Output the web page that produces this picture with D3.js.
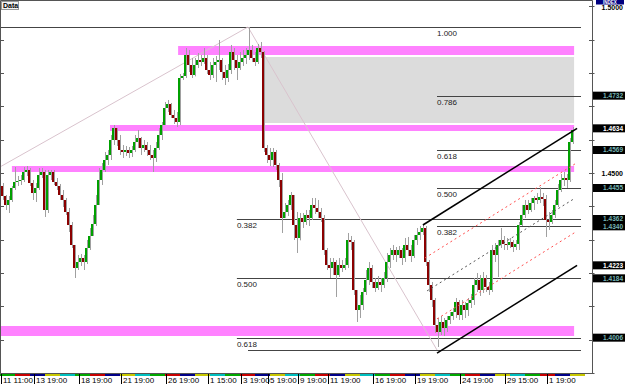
<!DOCTYPE html>
<html>
<head>
<meta charset="utf-8">
<title>Data</title>
<style>
body { margin: 0; background: #fff; }
svg { display: block; font-family: "Liberation Sans", Arial, sans-serif; }
</style>
</head>
<body>
<div id="chart"></div>
<script src="https://d3js.org/d3.v7.min.js"></script>
<script>

// candles, one per bar (open of each bar is the close of the one before)
var firstOpen = 1.4461;
var closes = [
1.4431,1.4404,1.4419,1.4455,1.4473,1.4476,1.4479,1.4503,1.4509,1.4470,
1.4440,1.4455,1.4494,1.4503,1.4389,1.4494,1.4503,1.4473,1.4461,1.4434,
1.4419,1.4383,1.4344,1.4284,1.4215,1.4233,1.4245,1.4233,1.4275,1.4311,
1.4347,1.4404,1.4479,1.4509,1.4539,1.4554,1.4599,1.4635,1.4599,1.4569,
1.4563,1.4569,1.4560,1.4569,1.4593,1.4605,1.4575,1.4584,1.4569,1.4554,
1.4545,1.4575,1.4614,1.4644,1.4695,1.4707,1.4674,1.4665,1.4653,1.4785,
1.4791,1.4854,1.4824,1.4794,1.4824,1.4839,1.4833,1.4845,1.4809,1.4794,
1.4824,1.4833,1.4839,1.4803,1.4785,1.4809,1.4863,1.4839,1.4815,1.4833,
1.4845,1.4854,1.4869,1.4845,1.4833,1.4875,1.4863,1.4575,1.4554,1.4539,
1.4563,1.4524,1.4479,1.4365,1.4383,1.4404,1.4434,1.4344,1.4305,1.4365,
1.4353,1.4374,1.4365,1.4404,1.4395,1.4383,1.4365,1.4269,1.4224,1.4215,
1.4233,1.4194,1.4224,1.4215,1.4224,1.4299,1.4293,1.4149,1.4089,1.4104,
1.4143,1.4179,1.4215,1.4173,1.4155,1.4173,1.4164,1.4185,1.4233,1.4254,
1.4269,1.4254,1.4269,1.4245,1.4284,1.4269,1.4251,1.4299,1.4314,1.4323,
1.4335,1.4233,1.4164,1.4119,1.4044,1.4023,1.4053,1.4035,1.4059,1.4071,
1.4083,1.4113,1.4074,1.4104,1.4089,1.4110,1.4119,1.4164,1.4179,1.4149,
1.4185,1.4158,1.4149,1.4269,1.4254,1.4284,1.4299,1.4287,1.4284,1.4293,
1.4278,1.4287,1.4344,1.4374,1.4404,1.4389,1.4410,1.4425,1.4419,1.4428,
1.4422,1.4359,1.4353,1.4374,1.4404,1.4449,1.4479,1.4485,1.4479,1.4593,1.4629];
var highs = [
1.4470,1.4434,1.4431,1.4461,1.4518,1.4491,1.4494,1.4518,1.4521,1.4515,
1.4479,1.4470,1.4515,1.4515,1.4509,1.4509,1.4509,1.4509,1.4485,1.4467,
1.4449,1.4425,1.4395,1.4353,1.4284,1.4254,1.4257,1.4254,1.4299,1.4335,
1.4374,1.4434,1.4515,1.4530,1.4563,1.4569,1.4614,1.4644,1.4635,1.4614,
1.4584,1.4581,1.4578,1.4581,1.4614,1.4629,1.4608,1.4599,1.4593,1.4584,
1.4569,1.4593,1.4635,1.4653,1.4713,1.4719,1.4710,1.4689,1.4683,1.4797,
1.4800,1.4875,1.4869,1.4845,1.4845,1.4860,1.4854,1.4875,1.4854,1.4833,
1.4845,1.4851,1.4899,1.4845,1.4824,1.4827,1.4884,1.4875,1.4854,1.4863,
1.4869,1.4875,1.4938,1.4884,1.4863,1.4887,1.4893,1.4866,1.4584,1.4575,
1.4575,1.4569,1.4530,1.4500,1.4410,1.4419,1.4443,1.4434,1.4383,1.4380,
1.4380,1.4389,1.4389,1.4425,1.4425,1.4419,1.4395,1.4374,1.4275,1.4245,
1.4245,1.4239,1.4245,1.4239,1.4245,1.4320,1.4311,1.4299,1.4149,1.4134,
1.4155,1.4209,1.4233,1.4224,1.4185,1.4191,1.4185,1.4203,1.4260,1.4275,
1.4284,1.4278,1.4281,1.4275,1.4305,1.4308,1.4284,1.4314,1.4335,1.4341,
1.4344,1.4341,1.4239,1.4173,1.4125,1.4065,1.4071,1.4065,1.4071,1.4083,
1.4095,1.4125,1.4119,1.4119,1.4113,1.4125,1.4137,1.4185,1.4200,1.4194,
1.4203,1.4194,1.4173,1.4284,1.4290,1.4299,1.4335,1.4311,1.4305,1.4305,
1.4299,1.4299,1.4353,1.4404,1.4419,1.4419,1.4425,1.4431,1.4440,1.4458,
1.4440,1.4434,1.4383,1.4389,1.4419,1.4467,1.4497,1.4503,1.4497,1.4605,1.4638];
var lows = [
1.4419,1.4389,1.4380,1.4413,1.4449,1.4461,1.4464,1.4473,1.4491,1.4461,
1.4419,1.4413,1.4449,1.4485,1.4368,1.4380,1.4479,1.4464,1.4449,1.4419,
1.4398,1.4374,1.4323,1.4275,1.4185,1.4209,1.4221,1.4209,1.4227,1.4269,
1.4311,1.4341,1.4404,1.4464,1.4503,1.4524,1.4539,1.4584,1.4581,1.4554,
1.4545,1.4551,1.4545,1.4548,1.4563,1.4575,1.4554,1.4563,1.4551,1.4539,
1.4503,1.4533,1.4569,1.4599,1.4644,1.4683,1.4665,1.4647,1.4638,1.4644,
1.4779,1.4785,1.4803,1.4785,1.4790,1.4815,1.4821,1.4827,1.4797,1.4779,
1.4785,1.4773,1.4809,1.4779,1.4764,1.4773,1.4797,1.4809,1.4779,1.4809,
1.4821,1.4827,1.4839,1.4833,1.4821,1.4827,1.4845,1.4563,1.4530,1.4521,
1.4518,1.4509,1.4458,1.4320,1.4365,1.4371,1.4389,1.4299,1.4260,1.4298,
1.4335,1.4344,1.4341,1.4359,1.4377,1.4365,1.4353,1.4254,1.4209,1.4185,
1.4194,1.4128,1.4188,1.4203,1.4209,1.4215,1.4269,1.4134,1.4053,1.4065,
1.4089,1.4134,1.4164,1.4155,1.4143,1.4149,1.4143,1.4155,1.4173,1.4215,
1.4239,1.4233,1.4245,1.4224,1.4233,1.4251,1.4233,1.4245,1.4284,1.4299,
1.4314,1.4221,1.4143,1.4098,1.4020,1.3978,1.4014,1.4011,1.4023,1.4047,
1.4059,1.4065,1.4059,1.4059,1.4065,1.4071,1.4095,1.4104,1.4143,1.4131,
1.4140,1.4143,1.4134,1.4143,1.4233,1.4188,1.4275,1.4269,1.4269,1.4275,
1.4263,1.4269,1.4269,1.4341,1.4365,1.4377,1.4383,1.4389,1.4407,1.4410,
1.4401,1.4308,1.4329,1.4347,1.4365,1.4398,1.4443,1.4461,1.4455,1.4473,1.4587];

// time axis
var timeLabels = ["11 11:00","13 19:00","18 19:00","21 19:00","26 19:00","1 15:00","3 19:00",
                  "5 19:00","9 19:00","11 19:00","16 19:00","19 19:00","24 19:00","29 15:00","1 19:00"];
var timeBars = [0, 11, 26, 40, 55, 69, 80, 89, 99, 109, 124, 138, 153, 168, 182];
var dayColors = ["#00a800", "#c80000", "#000088", "#c8c800", "#00c0c0"];

// price axis
var gridLabels = [1.50, 1.45];

// zones (magenta bands + grey box), bar where each starts, all end at the last bar
var bandTops    = [1.4881, 1.4644, 1.4521, 1.4041];
var bandBottoms = [1.4854, 1.4626, 1.4503, 1.4011];
var bandStarts  = [58.7, 36, 3.3, -0.7];
var greyZone    = [86.7, 1.4848, 1.4650];

// fibonacci levels
var fib1Names  = ["0.382", "0.500", "0.618", "0.786", "1.000"];
var fib1Prices = [1.4340, 1.4455, 1.4569, 1.4732, 1.4938];
var fib1Zero   = 1.3969;
var fib2Names  = ["0.382", "0.500", "0.618"];
var fib2Prices = [1.4362, 1.4184, 1.4006];

// trend lines [bar, price, bar, price]
var trendLines = [[-0.7, 1.4518, 82, 1.4938], [82, 1.4938, 145, 1.3969]];

// channel: upper line anchors, lower line end price, start bar of each line
var chanUpper = [140.3, 1.4344, 191.7, 1.4634];
var chanLowerEnd = 1.4223;
var chanStarts = [140.3, 141, 141.7, 145, 145];

var width = 625, height = 384;
var lastBar = closes.length - 1;

var svg = d3.select("#chart").append("svg")
    .attr("width", width)
    .attr("height", height);

var x = d3.scaleLinear().domain([0, 190]).range([2, 572]);
var y = d3.scaleLinear().domain([1.39, 1.50]).range([373, 6.33]);
var fmt = d3.format(".4f");

// zones
svg.append("rect")
    .attr("x", x(greyZone[0])).attr("width", x(lastBar + 0.7) - x(greyZone[0]))
    .attr("y", y(greyZone[1])).attr("height", y(greyZone[2]) - y(greyZone[1]))
    .attr("fill", "#dcdcdc");

svg.selectAll(".band")
    .data(bandTops)
  .enter().append("rect")
    .attr("class", "band")
    .attr("x", function(d, i) { return x(bandStarts[i]); })
    .attr("width", function(d, i) { return x(lastBar + 0.7) - x(bandStarts[i]); })
    .attr("y", function(d) { return y(d); })
    .attr("height", function(d, i) { return y(bandBottoms[i]) - y(d); })
    .attr("fill", "#ff82ff");

// fib lines
var endX = x(193);
var fibLines = [];
fib1Prices.forEach(function(p, i) {
  fibLines.push({p: p, x0: i == 4 ? 0 : x(145), name: fib1Names[i], lx: x(145)});
});
fibLines.push({p: fib1Zero, x0: x(82), name: "", lx: 0});
fib2Prices.forEach(function(p, i) {
  fibLines.push({p: p, x0: x(78.3), name: fib2Names[i], lx: x(78.3)});
});

svg.selectAll(".fib")
    .data(fibLines)
  .enter().append("line")
    .attr("x1", function(d) { return d.x0; })
    .attr("x2", endX)
    .attr("y1", function(d) { return Math.round(y(d.p)) + 0.5; })
    .attr("y2", function(d) { return Math.round(y(d.p)) + 0.5; })
    .attr("stroke", "#444")
    .attr("stroke-width", 1);

svg.selectAll(".fibtext")
    .data(fibLines.filter(function(d) { return d.name; }))
  .enter().append("text")
    .attr("x", function(d) { return d.lx; })
    .attr("y", function(d) { return y(d.p) + 9; })
    .attr("font-size", "8px")
    .attr("fill", "#222")
    .text(function(d) { return d.name; });

// thin trend lines
svg.selectAll(".trend")
    .data(trendLines)
  .enter().append("line")
    .attr("x1", function(d) { return x(d[0]); })
    .attr("y1", function(d) { return y(d[1]); })
    .attr("x2", function(d) { return x(d[2]); })
    .attr("y2", function(d) { return y(d[3]); })
    .attr("stroke", "#d9c3cd")
    .attr("stroke-width", 1);

// candles
var opens = [firstOpen].concat(closes.slice(0, -1));
var bars = d3.range(closes.length);

svg.append("g").selectAll("line")
    .data(bars)
  .enter().append("line")
    .attr("x1", function(i) { return x(i) + 1.5; })
    .attr("x2", function(i) { return x(i) + 1.5; })
    .attr("y1", function(i) { return y(highs[i]); })
    .attr("y2", function(i) { return y(lows[i]); })
    .attr("stroke", "#a0a0a0");

svg.append("g").selectAll("rect")
    .data(bars)
  .enter().append("rect")
    .attr("x", function(i) { return x(i) - 1; })
    .attr("width", 2)
    .attr("y", function(i) { return y(Math.max(opens[i], closes[i])); })
    .attr("height", function(i) { return Math.max(1, Math.abs(y(opens[i]) - y(closes[i]))); })
    .attr("fill", function(i) { return closes[i] >= opens[i] ? "#00a000" : "#8b0000"; });

// channel
var slope = (chanUpper[3] - chanUpper[1]) / (chanUpper[2] - chanUpper[0]);
var chanWidth = chanUpper[3] - chanLowerEnd;
function chanPrice(b, k) { return chanUpper[1] + (b - chanUpper[0]) * slope - k * chanWidth / 4; }
var chanStyles = [
  {stroke: "#000", w: 1.6, dash: null},
  {stroke: "#ff5050", w: 1, dash: "2,3"},
  {stroke: "#555", w: 1, dash: "2,3"},
  {stroke: "#ff5050", w: 1, dash: "2,3"},
  {stroke: "#000", w: 1.6, dash: null}
];
svg.selectAll(".chan")
    .data(chanStarts)
  .enter().append("line")
    .attr("x1", function(b) { return x(b); })
    .attr("y1", function(b, k) { return y(chanPrice(b, k)); })
    .attr("x2", function(b, k) { return x(k == 0 || k == 4 ? chanUpper[2] : 191); })
    .attr("y2", function(b, k) { return y(chanPrice(k == 0 || k == 4 ? chanUpper[2] : 191, k)); })
    .attr("stroke", function(b, k) { return chanStyles[k].stroke; })
    .attr("stroke-width", function(b, k) { return chanStyles[k].w; })
    .attr("stroke-dasharray", function(b, k) { return chanStyles[k].dash; });

// frame
var plotRight = 592.5, plotBottom = 373.5;
svg.append("path")
    .attr("d", "M0.5,0.5H" + plotRight + "V" + plotBottom + "H0.5Z")
    .attr("fill", "none")
    .attr("stroke", "#555");

// price ticks, both sides, pointing in
var ticks = d3.range(139, 151).map(function(v) { return v / 100; });
svg.selectAll(".ltick")
    .data(ticks)
  .enter().append("line")
    .attr("x1", 0.5).attr("x2", 4)
    .attr("y1", function(d) { return Math.round(y(d)) + 0.5; })
    .attr("y2", function(d) { return Math.round(y(d)) + 0.5; })
    .attr("stroke", "#555");
svg.selectAll(".rtick")
    .data(ticks)
  .enter().append("line")
    .attr("x1", plotRight - 3.5).attr("x2", plotRight + 2)
    .attr("y1", function(d) { return Math.round(y(d)) + 0.5; })
    .attr("y2", function(d) { return Math.round(y(d)) + 0.5; })
    .attr("stroke", "#555");

svg.selectAll(".grid")
    .data(gridLabels)
  .enter().append("text")
    .attr("x", 623)
    .attr("y", function(d) { return y(d) + 3.5; })
    .attr("text-anchor", "end")
    .attr("font-size", "7px")
    .attr("font-weight", "bold")
    .attr("fill", "#000")
    .text(fmt);

// price markers on the right
var markers = fib1Prices.slice(0, 4).concat(fib2Prices).map(function(p) { return {p: p, c: "#73b3b3"}; })
  .concat([{p: chanUpper[3], c: "#fff"}, {p: chanLowerEnd, c: "#fff"}]);

var mk = svg.selectAll(".mk")
    .data(markers)
  .enter().append("g");
mk.append("rect")
    .attr("x", 593).attr("width", 32)
    .attr("y", function(d) { return y(d.p) - 4; })
    .attr("height", 8)
    .attr("fill", "#000");
mk.append("text")
    .attr("x", 623)
    .attr("y", function(d) { return y(d.p) + 2.5; })
    .attr("text-anchor", "end")
    .attr("font-size", "6.5px")
    .attr("font-weight", "bold")
    .attr("fill", function(d) { return d.c; })
    .text(function(d) { return fmt(d.p); });

// INDEX tag at the top edge
svg.append("rect").attr("x", 596).attr("y", 0).attr("width", 28).attr("height", 4.5).attr("fill", "#000080");
svg.append("text").attr("x", 610).attr("y", 4).attr("text-anchor", "middle")
    .attr("font-size", "4.5px").attr("font-weight", "bold").attr("fill", "#fff").text("INDEX");

// Data tag
svg.append("rect").attr("x", 1.5).attr("y", 1.5).attr("width", 17).attr("height", 8)
    .attr("fill", "#f2f2f2").attr("stroke", "#999");
svg.append("text").attr("x", 3).attr("y", 8).attr("font-size", "7px").attr("font-weight", "bold").text("Data");

// day colour strip under the bars
var nSeg = Math.ceil(closes.length / 5);
svg.selectAll(".day")
    .data(d3.range(nSeg))
  .enter().append("rect")
    .attr("x", function(k) { return x(k * 5) - 2; })
    .attr("width", x(5) - x(0))
    .attr("y", 374)
    .attr("height", 2)
    .attr("fill", function(k) { return dayColors[k % dayColors.length]; });

// time ticks and labels
var tl = svg.selectAll(".tl")
    .data(timeLabels)
  .enter().append("g");
tl.append("line")
    .attr("x1", function(d, i) { return Math.round(x(timeBars[i])) - 0.5; })
    .attr("x2", function(d, i) { return Math.round(x(timeBars[i])) - 0.5; })
    .attr("y1", 374).attr("y2", 384)
    .attr("stroke", "#000");
tl.append("text")
    .attr("x", function(d, i) { return x(timeBars[i]) + 1; })
    .attr("y", 383)
    .attr("font-size", "8px")
    .attr("fill", "#000")
    .text(function(d) { return d; });

</script>
</body>
</html>
